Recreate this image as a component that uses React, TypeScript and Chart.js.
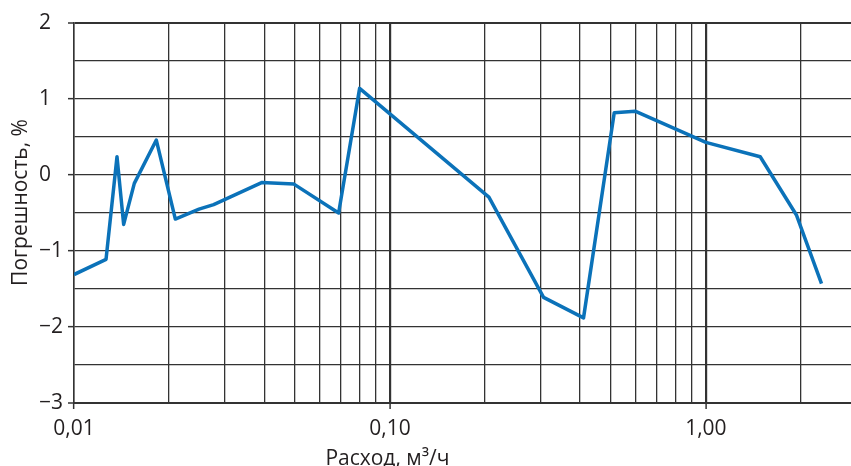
import React, { useEffect, useRef } from "react";
import { Chart, registerables } from "chart.js";

Chart.register(...registerables);

// Flow, m³/h
const flow = [0.01, 0.01263, 0.01368, 0.01436, 0.01552, 0.01822, 0.02093, 0.02487, 0.02767, 0.03926, 0.04967, 0.0688, 0.08017, 0.2057, 0.3064, 0.41, 0.5128, 0.597, 1.0, 1.486, 1.937, 2.323];
// Error, %
const errorPct = [-1.31, -1.11, 0.24, -0.65, -0.11, 0.46, -0.58, -0.45, -0.39, -0.1, -0.12, -0.5, 1.14, -0.29, -1.61, -1.88, 0.82, 0.84, 0.43, 0.24, -0.53, -1.43];

const xGridValues = [0.01, 0.02, 0.03, 0.04, 0.05, 0.06, 0.07, 0.08, 0.09, 0.1, 0.2, 0.3, 0.4, 0.5, 0.6, 0.7, 0.8, 0.9, 1, 2];
const xTickValues = [0.01, 0.1, 1];
const xTickLabels = ["0,01", "0,10", "1,00"];
const xMin = 0.01;
const xMax = 2.88;
const yMin = -3;
const yMax = 2;

const xTitle = "Расход, м³/ч";
const yTitle = "Погрешность, %";

const FONT = "'Open Sans', 'Noto Sans', sans-serif";
const TEXT = "#231f20";
const GRID = "#333333";

const isMajorX = (v: number) => xTickValues.some((t) => Math.abs(t - v) / t < 1e-6);

const titlesPlugin = {
  id: "titles",
  afterDraw(chart: any) {
    const ctx = chart.ctx;
    const xs = chart.scales.x;
    ctx.save();
    ctx.fillStyle = TEXT;
    ctx.font = `21px ${FONT}`;
    ctx.textAlign = "center";
    ctx.textBaseline = "alphabetic";
    ctx.fillText(xTitle, xs.getPixelForValue(0.1) - 2.5, 465);
    ctx.translate(19, 202.5);
    ctx.rotate(-Math.PI / 2);
    ctx.fillText(yTitle, 0, 7.5);
    ctx.restore();
  },
};

export default function App() {
  const ref = useRef<HTMLCanvasElement | null>(null);
  useEffect(() => {
    if (!ref.current) return;
    const chart = new Chart(ref.current, {
      type: "line",
      data: {
        datasets: [
          {
            data: flow.map((f, i) => ({ x: f, y: errorPct[i] })),
            borderColor: "#0b72b9",
            borderWidth: 3.5,
            pointRadius: 0,
            tension: 0,
            borderJoinStyle: "round",
            borderCapStyle: "butt",
          },
        ],
      },
      options: {
        animation: false,
        responsive: false,
        devicePixelRatio: 1,
        layout: { padding: { left: 39, top: 23, right: 0, bottom: 0 } },
        plugins: { legend: { display: false }, tooltip: { enabled: false } },
        scales: {
          x: {
            type: "logarithmic",
            min: xMin,
            max: xMax,
            afterBuildTicks: (scale: any) => {
              scale.ticks = xGridValues.map((v) => ({ value: v }));
            },
            afterFit: (scale: any) => {
              scale.height = 63;
            },
            grid: {
              color: GRID,
              lineWidth: (c: any) => (c.tick && isMajorX(c.tick.value) && c.tick.value > 0.05 ? 2.2 : 1.3),
              tickLength: 6,
              tickColor: (c: any) => (c.tick && isMajorX(c.tick.value) ? GRID : "rgba(0,0,0,0)"),
              tickWidth: 1.5,
            },
            border: { color: GRID, width: 2 },
            ticks: {
              autoSkip: false,
              maxRotation: 0,
              padding: 7,
              color: TEXT,
              font: { family: FONT, size: 21 },
              callback: (v: any) => {
                const idx = xTickValues.findIndex((t) => Math.abs(t - v) / t < 1e-6);
                return idx >= 0 ? xTickLabels[idx] : "";
              },
            },
          },
          y: {
            type: "linear",
            min: yMin,
            max: yMax,
            afterFit: (scale: any) => {
              scale.width = 35;
            },
            grid: {
              color: GRID,
              lineWidth: (c: any) => (c.tick && (c.tick.value === yMax || c.tick.value === yMin) ? 2 : 1.3),
              tickLength: 6,
              tickColor: (c: any) => (c.tick && Number.isInteger(c.tick.value) ? GRID : "rgba(0,0,0,0)"),
              tickWidth: 1.5,
            },
            border: { color: GRID, width: 1.5 },
            ticks: {
              stepSize: 0.5,
              crossAlign: "far",
              color: TEXT,
              font: { family: FONT, size: 21 },
              callback: (v: any) => (Number.isInteger(v) ? String(v).replace("-", "\u2212") : ""),
            },
          },
        },
      },
      plugins: [titlesPlugin],
    } as any);
    return () => chart.destroy();
  }, []);
  return (
    <div style={{ position: "fixed", left: 0, top: 0, width: 851, height: 466, background: "#fff" }}>
      <canvas ref={ref} width={851} height={466} />
    </div>
  );
}
